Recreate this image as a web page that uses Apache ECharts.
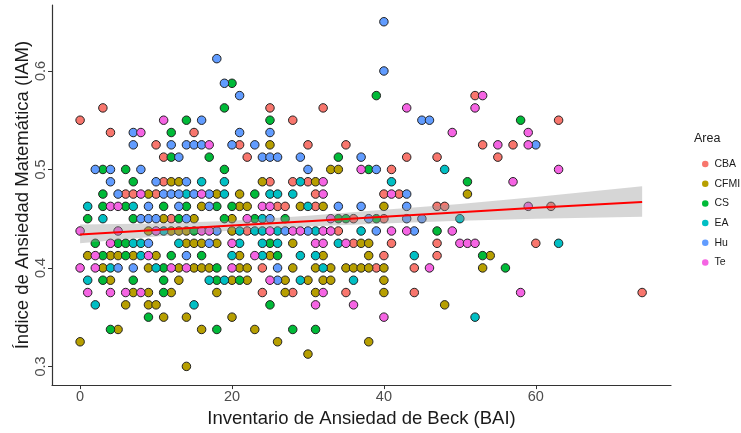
<!DOCTYPE html>
<html>
<head>
<meta charset="utf-8">
<script src="https://cdn.jsdelivr.net/npm/echarts@6.0.0/dist/echarts.min.js"></script>
<style>html,body{margin:0;padding:0;background:#fff;}#c{width:741px;height:433px;}</style>
</head>
<body>
<div id="c"></div>
<script>
// ---- data (x = BAI, y = IAM) ----
const areas = ['CBA', 'CFMI', 'CS', 'EA', 'Hu', 'Te'];
const colors = ['#F8766D', '#B79F00', '#00BA38', '#00BFC4', '#619CFF', '#F564E3'];

const cbaPts = [
  [52,0.575],[3,0.5625],[25,0.5625],[32,0.5625],[0,0.55],[28,0.55],[63,0.55],[4,0.5375],[15,0.5375],
  [10,0.525],[21,0.525],[30,0.525],[35,0.525],[53,0.525],[57,0.525],
  [11,0.5125],[22,0.5125],[43,0.5125],[47,0.5125],[55,0.5125],[41,0.5],
  [11,0.4875],[25,0.4875],[28,0.4875],[30,0.4875],
  [6,0.475],[7,0.475],[10,0.475],[31,0.475],[40,0.475],[42,0.475],
  [26,0.4625],[27,0.4625],[31,0.4625],[47,0.4625],[48,0.4625],[62,0.4625],
  [12,0.45],[36,0.45],[40,0.45],[22,0.4375],[34,0.4375],
  [36,0.425],[41,0.425],[47,0.425],[60,0.425],[40,0.4125],[47,0.4125],
  [24,0.4],[39,0.4],[44,0.4],[24,0.375],[28,0.375],[35,0.375],[44,0.375],[74,0.375]
];
const cfmiPts = [
  [25,0.525],[33,0.5],[34,0.5],[12,0.4875],[13,0.4875],[24,0.4875],[31,0.4875],
  [9,0.475],[18,0.475],[21,0.475],[51,0.475],
  [16,0.4625],[21,0.4625],[22,0.4625],[29,0.4625],[32,0.4625],[40,0.4625],
  [11,0.45],[15,0.45],[20,0.45],[9,0.4375],[12,0.4375],[13,0.4375],[14,0.4375],[20,0.4375],
  [14,0.425],[15,0.425],[16,0.425],[18,0.425],[28,0.425],[37,0.425],[38,0.425],
  [1,0.4125],[4,0.4125],[5,0.4125],[7,0.4125],[10,0.4125],[21,0.4125],[25,0.4125],[32,0.4125],[38,0.4125],[54,0.4125],
  [3,0.4],[9,0.4],[13,0.4],[15,0.4],[16,0.4],[17,0.4],[21,0.4],[22,0.4],[28,0.4],[31,0.4],[33,0.4],
  [35,0.4],[36,0.4],[37,0.4],[38,0.4],[40,0.4],[53,0.4],
  [4,0.3875],[13,0.3875],[20,0.3875],[22,0.3875],[27,0.3875],[30,0.3875],[32,0.3875],[33,0.3875],[40,0.3875],
  [7,0.375],[9,0.375],[12,0.375],[18,0.375],[27,0.375],[31,0.375],[40,0.375],
  [6,0.3625],[9,0.3625],[10,0.3625],[48,0.3625],[11,0.35],[14,0.35],[20,0.35],
  [5,0.3375],[16,0.3375],[23,0.3375],[0,0.325],[26,0.325],[38,0.325],[30,0.3125],[14,0.3]
];
const csPts = [
  [20,0.5875],[39,0.575],[19,0.5625],[14,0.55],[25,0.55],[58,0.55],[12,0.5375],
  [12,0.5125],[17,0.5125],[34,0.5125],[3,0.5],[6,0.5],[19,0.5],[38,0.5],[7,0.4875],[51,0.4875],
  [3,0.475],[23,0.475],[3,0.4625],[6,0.4625],[11,0.4625],[14,0.4625],[18,0.4625],[20,0.4625],
  [1,0.45],[7,0.45],[13,0.45],[19,0.45],[23,0.45],[27,0.45],[34,0.45],[35,0.45],[39,0.45],
  [15,0.4375],[47,0.4375],[2,0.425],[5,0.425],[6,0.425],[25,0.425],
  [3,0.4125],[6,0.4125],[12,0.4125],[16,0.4125],[26,0.4125],[53,0.4125],[11,0.4],[18,0.4],[56,0.4],
  [3,0.3875],[7,0.3875],[11,0.3875],[18,0.3875],[21,0.3875],[11,0.375],[25,0.3625],[9,0.35],
  [4,0.3375],[18,0.3375],[28,0.3375],[31,0.3375]
];
const eaPts = [
  [48,0.5],[16,0.4875],[19,0.4875],[29,0.4875],[41,0.4875],
  [14,0.475],[19,0.475],[25,0.475],[26,0.475],[28,0.475],[1,0.4625],[7,0.4625],[30,0.4625],
  [3,0.45],[24,0.45],[50,0.45],[11,0.4375],[21,0.4375],[23,0.4375],[24,0.4375],[26,0.4375],[31,0.4375],[37,0.4375],
  [7,0.425],[8,0.425],[13,0.425],[21,0.425],[24,0.425],[26,0.425],[34,0.425],[63,0.425],
  [8,0.4125],[20,0.4125],[24,0.4125],[29,0.4125],[31,0.4125],[44,0.4125],[4,0.4],[10,0.4],[32,0.4],
  [1,0.3875],[17,0.3875],[19,0.3875],[29,0.3875],[36,0.3875],[2,0.3625],[15,0.3625],[52,0.35]
];
const huPts = [
  [40,0.65],[18,0.6125],[40,0.6],[19,0.5875],[21,0.575],[16,0.55],[45,0.55],[46,0.55],
  [7,0.5375],[21,0.5375],[25,0.5375],
  [7,0.525],[12,0.525],[14,0.525],[15,0.525],[16,0.525],[20,0.525],[23,0.525],[60,0.525],
  [13,0.5125],[24,0.5125],[25,0.5125],[26,0.5125],[29,0.5125],[37,0.5125],
  [2,0.5],[4,0.5],[8,0.5],[30,0.5],[39,0.5],[4,0.4875],[10,0.4875],[14,0.4875],
  [5,0.475],[11,0.475],[12,0.475],[13,0.475],[15,0.475],[17,0.475],[43,0.475],
  [9,0.4625],[13,0.4625],[17,0.4625],[34,0.4625],[37,0.4625],[43,0.4625],
  [8,0.45],[9,0.45],[10,0.45],[14,0.45],[25,0.45],[38,0.45],[43,0.45],[45,0.45],
  [18,0.4375],[27,0.4375],[30,0.4375],[39,0.4375],[44,0.4375],[9,0.425],[17,0.425],[14,0.4125],
  [5,0.4],[7,0.4],[26,0.4],[26,0.3875]
];
const tePts = [
  [53,0.575],[43,0.5625],[52,0.5625],[11,0.55],[8,0.5375],[49,0.5375],[59,0.5375],
  [17,0.525],[55,0.525],[59,0.525],[37,0.5],[63,0.5],[32,0.4875],[57,0.4875],
  [8,0.475],[16,0.475],[32,0.475],[41,0.475],[4,0.4625],[5,0.4625],[24,0.4625],[25,0.4625],[59,0.4625],
  [22,0.45],[33,0.45],
  [0,0.4375],[5,0.4375],[10,0.4375],[16,0.4375],[17,0.4375],[25,0.4375],[28,0.4375],[29,0.4375],
  [32,0.4375],[33,0.4375],[41,0.4375],[43,0.4375],[49,0.4375],
  [4,0.425],[20,0.425],[31,0.425],[32,0.425],[35,0.425],[50,0.425],[51,0.425],[52,0.425],
  [2,0.4125],[9,0.4125],[23,0.4125],[0,0.4],[2,0.4],[12,0.4],[14,0.4],[20,0.4],[46,0.4],
  [25,0.3875],[1,0.375],[4,0.375],[6,0.375],[8,0.375],[32,0.375],[58,0.375],[31,0.3625],[36,0.3625],[40,0.35]
];
const pointSets = [cbaPts, cfmiPts, csPts, eaPts, huPts, tePts];

// fitted line and its confidence band
const fitX = [0, 10, 20, 30, 40, 50, 60, 74];
const fitY = [0.434, 0.4385, 0.443, 0.4475, 0.452, 0.4565, 0.461, 0.467];
const bandLow = [0.425, 0.432, 0.438, 0.442, 0.445, 0.448, 0.450, 0.452];
const bandHigh = [0.444, 0.445, 0.448, 0.453, 0.459, 0.465, 0.472, 0.483];

const xTicks = [0, 20, 40, 60];
const yTicks = [0.3, 0.4, 0.5, 0.6];

const font = 'Liberation Sans, Arial, Helvetica, sans-serif';
const chart = echarts.init(document.getElementById('c'), null, {renderer: 'canvas'});

const series = areas.map((a, i) => ({
  name: a,
  type: 'scatter',
  data: pointSets[i],
  symbolSize: 8.5,
  itemStyle: {color: colors[i], borderColor: '#222', borderWidth: 1, opacity: 1},
  z: 2,
  emphasis: {disabled: true}
}));

series.push({
  type: 'custom',
  silent: true,
  z: 3,
  data: [0],
  renderItem: function (params, api) {
    const pts = [];
    for (let i = 0; i < fitX.length; i++) pts.push(api.coord([fitX[i], bandHigh[i]]));
    for (let i = fitX.length - 1; i >= 0; i--) pts.push(api.coord([fitX[i], bandLow[i]]));
    return {type: 'polygon', shape: {points: pts}, style: {fill: 'rgba(153,153,153,0.4)'}};
  }
});
series.push({
  type: 'line',
  silent: true,
  z: 4,
  data: fitX.map((x, i) => [x, fitY[i]]),
  symbol: 'none',
  lineStyle: {color: '#FF0000', width: 2}
});

chart.setOption({
  animation: false,
  backgroundColor: '#fff',
  grid: {left: 52, right: 70, top: 5, bottom: 41},
  title: {
    text: 'Area', left: 689, top: 127,
    textStyle: {fontFamily: font, fontSize: 12.5, fontWeight: 'normal', color: '#1a1a1a'}
  },
  legend: {
    data: areas,
    orient: 'vertical',
    left: 697, top: 152,
    icon: 'circle',
    itemWidth: 6.5, itemHeight: 6.5,
    itemGap: 5.7,
    itemStyle: {borderWidth: 0},
    selectedMode: false,
    textStyle: {fontFamily: font, fontSize: 10.5, color: '#1a1a1a', lineHeight: 14, padding: [0, 0, 0, 1]}
  },
  xAxis: {
    type: 'value', min: -3.7, max: 77.8,
    name: 'Inventario de Ansiedad de Beck (BAI)',
    nameLocation: 'middle', nameGap: 23,
    nameTextStyle: {fontFamily: font, fontSize: 18.5, color: '#1a1a1a'},
    splitLine: {show: false},
    axisLine: {show: true, onZero: false, lineStyle: {color: '#333', width: 1.2}},
    axisTick: {show: true, length: 4, customValues: xTicks, lineStyle: {color: '#333'}},
    axisLabel: {customValues: xTicks, margin: 4, fontFamily: font, fontSize: 14.5, color: '#4d4d4d'}
  },
  yAxis: {
    type: 'value', min: 0.281, max: 0.667,
    name: 'Índice de Ansiedad Matemática (IAM)',
    nameLocation: 'middle', nameGap: 20, nameMoveOverlap: false,
    nameTextStyle: {fontFamily: font, fontSize: 18.5, color: '#1a1a1a'},
    splitLine: {show: false},
    axisLine: {show: true, onZero: false, lineStyle: {color: '#333', width: 1.2}},
    axisTick: {show: true, length: 4, customValues: yTicks, lineStyle: {color: '#333'}},
    axisLabel: {customValues: yTicks, rotate: 90, margin: 4, fontFamily: font, fontSize: 14.5, color: '#4d4d4d',
      formatter: v => String(Math.round(v * 10) / 10)}
  },
  series: series
});
</script>
</body>
</html>
